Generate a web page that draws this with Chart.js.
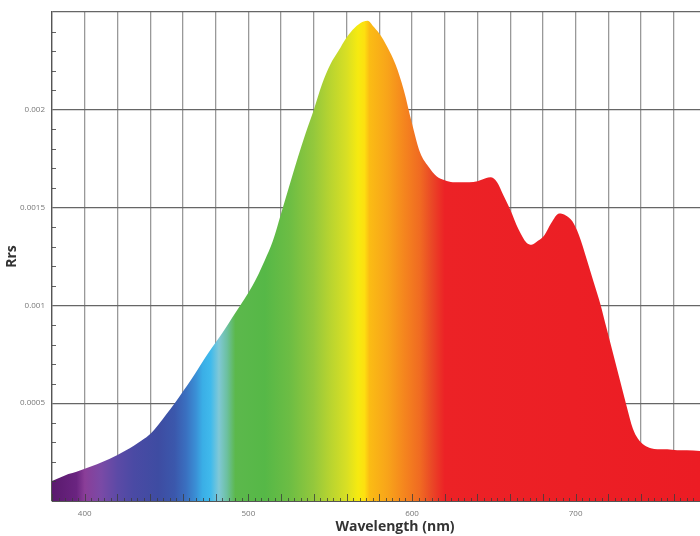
<!DOCTYPE html>
<html>
<head>
<meta charset="utf-8">
<script src="https://cdn.jsdelivr.net/npm/chart.js@4"></script>
<style>
  html,body{margin:0;padding:0;background:#fff;}
  #wrap{width:700px;height:536px;position:relative;}
</style>
</head>
<body>
<div id="wrap"><canvas id="chart"></canvas></div>
<script>
// wavelength (nm) and remote sensing reflectance
const wavelength = [380,385,390,395,400,405,410,415,420,425,430,435,440,445,450,455,460,465,470,475,
  480,485,490,495,500,505,510,515,520,525,530,535,540,545,550,555,560,565,570,573,576,580,585,590,595,
  600,605,610,615,620,625,630,635,640,645,648,652,656,660,665,670,673,677,681,685,690,694,698,702,707,
  711,715,719,723,727,731,735,738,742,746,750,756,762,768,776];
const rrs = [0.000102,0.00012,0.000138,0.00015,0.000165,0.00018,0.000197,0.000215,0.000235,0.000258,
  0.000283,0.00031,0.000342,0.00039,0.000445,0.0005,0.00056,0.00062,0.000685,0.00075,
  0.00081,0.00087,0.000935,0.001,0.001065,0.00114,0.00123,0.00133,0.00147,0.00161,
  0.00175,0.00188,0.002,0.00213,0.00223,0.0023,0.00237,0.00242,0.00245,0.002455,0.00243,0.00239,0.00232,0.00223,0.0021,
  0.00193,0.00178,0.00171,0.00166,0.00164,0.00163,0.00163,0.00163,0.001635,0.00165,0.001655,0.00163,0.00156,0.00149,0.00139,
  0.00132,0.00131,0.00133,0.00136,0.00142,0.00147,0.00146,0.00143,0.00136,0.00123,
  0.00112,0.00101,0.00088,0.00075,0.00062,0.00049,0.00037,0.00032,0.000285,0.00027,0.000265,0.000265,0.00026,0.00026,0.000256];
const xLabels = [400,500,600,700];
const yLabels = [0.0005,0.001,0.0015,0.002];

// spectrum colours along the wavelength axis
const spectrumNm = [380,395,400,410,420,430,445,455,462,468,472,477,482,487,492,510,525,540,550,560,567,571,574,585,595,605,612,620,776];
const spectrumCol = ['#5a1a6e','#6a2480','#8a3e98','#7a4aa6','#5c4aa6','#4a4aa4','#3e4ca2','#3b58ac','#3a70c0','#3a90d6','#3aaee6','#40baec','#80c8d6','#6cc0a0','#5cb84c','#56b847','#6cbd44','#94c83c','#b8d430','#d8df24','#f6ea10','#fde010','#fbbc14','#f8a41a','#f5861e','#f06a22','#ea4826','#ec2226','#ec1c24'];

function spectrumFill(ctx){
  const chart = ctx.chart;
  if(!chart.chartArea) return '#ec1c24';
  const xs = chart.scales.x;
  const x0 = xs.getPixelForValue(380), x1 = xs.getPixelForValue(776);
  const g = chart.ctx.createLinearGradient(x0, 0, x1, 0);
  spectrumNm.forEach((nm,i)=>{ g.addColorStop((nm-380)/(776-380), spectrumCol[i]); });
  return g;
}

const minorTicks = {
  id:'minorTicks',
  afterDatasetsDraw(chart){
    const {ctx, chartArea:a, scales:{x, y}} = chart;
    ctx.save();
    ctx.strokeStyle = 'rgba(60,60,60,0.8)';
    ctx.lineWidth = 1;
    for(let nm=380; nm<=776; nm+=4){
      const px = Math.round(x.getPixelForValue(nm)) + 0.5;
      const len = nm % 20 === 0 ? 7 : 3;
      ctx.beginPath(); ctx.moveTo(px, a.bottom); ctx.lineTo(px, a.bottom - len); ctx.stroke();
    }
    for(let i=1; i<25; i++){
      if(i % 5 === 0) continue;
      const py = Math.round(y.getPixelForValue(i*0.0001)) + 0.5;
      ctx.beginPath(); ctx.moveTo(a.left, py); ctx.lineTo(a.left + 4, py); ctx.stroke();
    }
    ctx.restore();
  }
};

const xTitle = {
  id:'xTitle',
  afterDraw(chart){
    const ctx = chart.ctx;
    ctx.save();
    ctx.font = 'bold 14px "Open Sans"';
    ctx.fillStyle = '#333';
    ctx.textAlign = 'center';
    ctx.textBaseline = 'middle';
    ctx.fillText('Wavelength (nm)', 395, 527);
    ctx.restore();
  }
};

new Chart(document.getElementById('chart'), {
  type:'line',
  data:{
    labels: wavelength,
    datasets:[{
      data: wavelength.map((w,i)=>({x:w, y:rrs[i]})),
      fill:'origin',
      backgroundColor: spectrumFill,
      borderWidth:0,
      pointRadius:0,
      cubicInterpolationMode:'monotone'
    }]
  },
  options:{
    responsive:true,
    maintainAspectRatio:false,
    animation:false,
    layout:{ padding:{ top:12, right:0, bottom:0, left:0 } },
    plugins:{ legend:{ display:false }, tooltip:{ enabled:false } },
    scales:{
      x:{
        type:'linear', min:380, max:776,
        afterBuildTicks: s => { s.ticks = s.ticks.filter(t => t.value % 20 === 0); },
        afterFit: s => { s.height = 35; },
        grid:{ color:'#999', lineWidth:1.3, drawTicks:false },
        border:{ display:true, color:'#555', width:1 },
        ticks:{ stepSize:20, autoSkip:false, maxRotation:0, padding:8, color:'#777',
          font:{ family:'Open Sans', size:8 },
          callback: v => xLabels.includes(v) ? String(v) : '' }
      },
      y:{
        min:0, max:0.0025,
        afterFit: s => { s.width = 52; },
        grid:{ color:'#666', lineWidth:1.3, drawTicks:false },
        border:{ display:true, color:'#555', width:1.3 },
        ticks:{ stepSize:0.0005, padding:7, color:'#777',
          font:{ family:'Open Sans', size:8 },
          callback: v => { const r = +v.toFixed(4); return yLabels.includes(r) ? String(r) : ''; } },
        title:{ display:true, text:'Rrs', color:'#333', padding:{top:4,bottom:0},
          font:{ family:'Open Sans', size:14, weight:'bold' } }
      }
    }
  },
  plugins:[minorTicks, xTitle]
});
</script>
</body>
</html>
